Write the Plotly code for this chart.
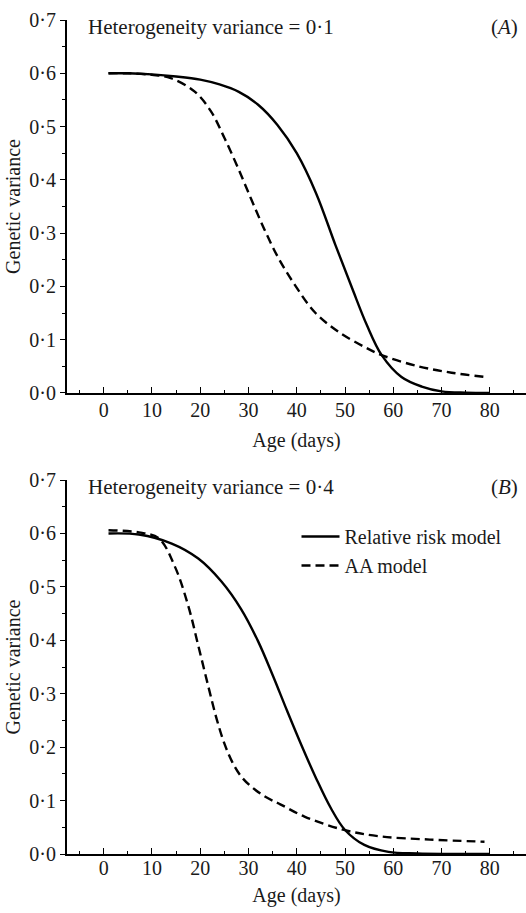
import plotly.graph_objects as go
from plotly.subplots import make_subplots

# Panel A: heterogeneity variance = 0.1
a_rr_days = [1, 5, 10, 15, 20, 24, 28, 32, 36, 40, 44, 48, 51.5, 54.5, 57.6, 61.7, 65.9, 70, 75, 80]
a_rr_vals = [0.600, 0.600, 0.598, 0.594, 0.588, 0.579, 0.565, 0.541, 0.503, 0.450, 0.375, 0.278, 0.196, 0.128, 0.071, 0.030, 0.012, 0.003, 0.0005, 0.0]
a_aa_days = [1, 5, 10, 13.9, 18.8, 22.2, 25.0, 27.8, 30.6, 33.3, 36.1, 39.6, 43.7, 48.6, 54.1, 57.6, 65.2, 72.1, 79]
a_aa_vals = [0.600, 0.600, 0.597, 0.591, 0.566, 0.529, 0.479, 0.423, 0.363, 0.307, 0.255, 0.203, 0.152, 0.115, 0.086, 0.071, 0.050, 0.038, 0.030]

# Panel B: heterogeneity variance = 0.4
b_rr_days = [1, 7.3, 14.1, 19.6, 24.4, 28.5, 32.0, 35.0, 38.0, 41.0, 44.0, 47.0, 50.0, 54.0, 59.0, 65, 80]
b_rr_vals = [0.600, 0.598, 0.581, 0.553, 0.510, 0.458, 0.398, 0.335, 0.268, 0.203, 0.142, 0.087, 0.045, 0.017, 0.004, 0.001, 0.0]
b_aa_days = [1, 7.3, 11.4, 14.8, 17.6, 19.6, 21.7, 23.4, 25.0, 26.7, 28.5, 30.6, 33.5, 36.6, 41.6, 49.8, 57.3, 67.6, 78.9]
b_aa_vals = [0.606, 0.602, 0.591, 0.537, 0.462, 0.390, 0.313, 0.253, 0.207, 0.171, 0.145, 0.126, 0.107, 0.093, 0.070, 0.045, 0.033, 0.027, 0.023]

panel_titles = ["Heterogeneity variance = 0·1", "Heterogeneity variance = 0·4"]
panel_tags = ["(<i>A</i>)", "(<i>B</i>)"]
series_names = ["Relative risk model", "AA model"]
x_title = "Age (days)"
y_title = "Genetic variance"

FONT = "'Liberation Serif', 'Times New Roman', 'DejaVu Serif', serif"
INK = "#1a1a1a"

fig = make_subplots(rows=2, cols=1, vertical_spacing=0.1)

panels = [
    (a_rr_days, a_rr_vals, a_aa_days, a_aa_vals),
    (b_rr_days, b_rr_vals, b_aa_days, b_aa_vals),
]
for i, (rd, rv, ad, av) in enumerate(panels):
    row = i + 1
    show = (row == 2)
    fig.add_trace(go.Scatter(x=rd, y=rv, mode="lines", name=series_names[0],
                             line=dict(color="black", width=2.4, shape="spline", smoothing=1.0),
                             showlegend=show), row=row, col=1)
    fig.add_trace(go.Scatter(x=ad, y=av, mode="lines", name=series_names[1],
                             line=dict(color="black", width=2.4, dash="9px,5px", shape="spline", smoothing=1.0),
                             showlegend=show), row=row, col=1)

xcommon = dict(range=[-7.6, 87.5], dtick=10, tick0=0, ticks="inside", ticklen=6, tickwidth=1.3,
               tickcolor="black", showline=True, linecolor="black", linewidth=2,
               showgrid=False, zeroline=False, automargin=False,
               minor=dict(ticks="inside", ticklen=3, dtick=5, tickcolor="black", tickwidth=1),
               tickfont=dict(family=FONT, size=20, color=INK))
ycommon = dict(range=[0, 0.7], dtick=0.1, tick0=0, tickformat=".1f", ticks="outside", ticklen=5,
               tickwidth=1.3, tickcolor="black", showline=True, linecolor="black", linewidth=2,
               showgrid=False, zeroline=False, automargin=False,
               minor=dict(ticks="outside", ticklen=3, dtick=0.05, tickcolor="black", tickwidth=1),
               tickfont=dict(family=FONT, size=20, color=INK),
               title=dict(text=y_title, font=dict(family=FONT, size=20, color=INK), standoff=3))

fig.update_xaxes(**xcommon)
fig.update_yaxes(**ycommon)
fig.update_xaxes(ticklabelstandoff=-2,
                 title=dict(text=x_title, font=dict(family=FONT, size=20, color=INK), standoff=13),
                 row=1, col=1)
fig.update_xaxes(ticklabelstandoff=-5,
                 title=dict(text=x_title, font=dict(family=FONT, size=20, color=INK), standoff=10),
                 row=2, col=1)

fig.update_layout(
    width=526, height=913,
    margin=dict(l=67, r=0, t=20, b=59),
    paper_bgcolor="white", plot_bgcolor="white",
    separators="·,",
    font=dict(family=FONT, size=20, color=INK),
    yaxis=dict(domain=[0.5528, 1.0]),
    yaxis2=dict(domain=[0.0, 0.4484]),
    legend=dict(x=0.50, y=0.404, xanchor="left", yanchor="top",
                font=dict(family=FONT, size=20, color=INK),
                bgcolor="rgba(0,0,0,0)", tracegroupgap=0, itemwidth=38),
)

for i in range(2):
    xr = "x domain" if i == 0 else "x2 domain"
    yr = "y domain" if i == 0 else "y2 domain"
    fig.add_annotation(text=panel_titles[i], xref=xr, yref=yr, x=0.041, y=0.981,
                       xanchor="left", yanchor="middle", showarrow=False,
                       font=dict(family=FONT, size=21, color=INK))
    fig.add_annotation(text=panel_tags[i], xref=xr, yref=yr, x=0.987, y=0.981,
                       xanchor="right", yanchor="middle", showarrow=False,
                       font=dict(family=FONT, size=21, color=INK))

fig.write_html("out.html", config={"displayModeBar": False},
               post_script="document.body.style.margin='0';")
